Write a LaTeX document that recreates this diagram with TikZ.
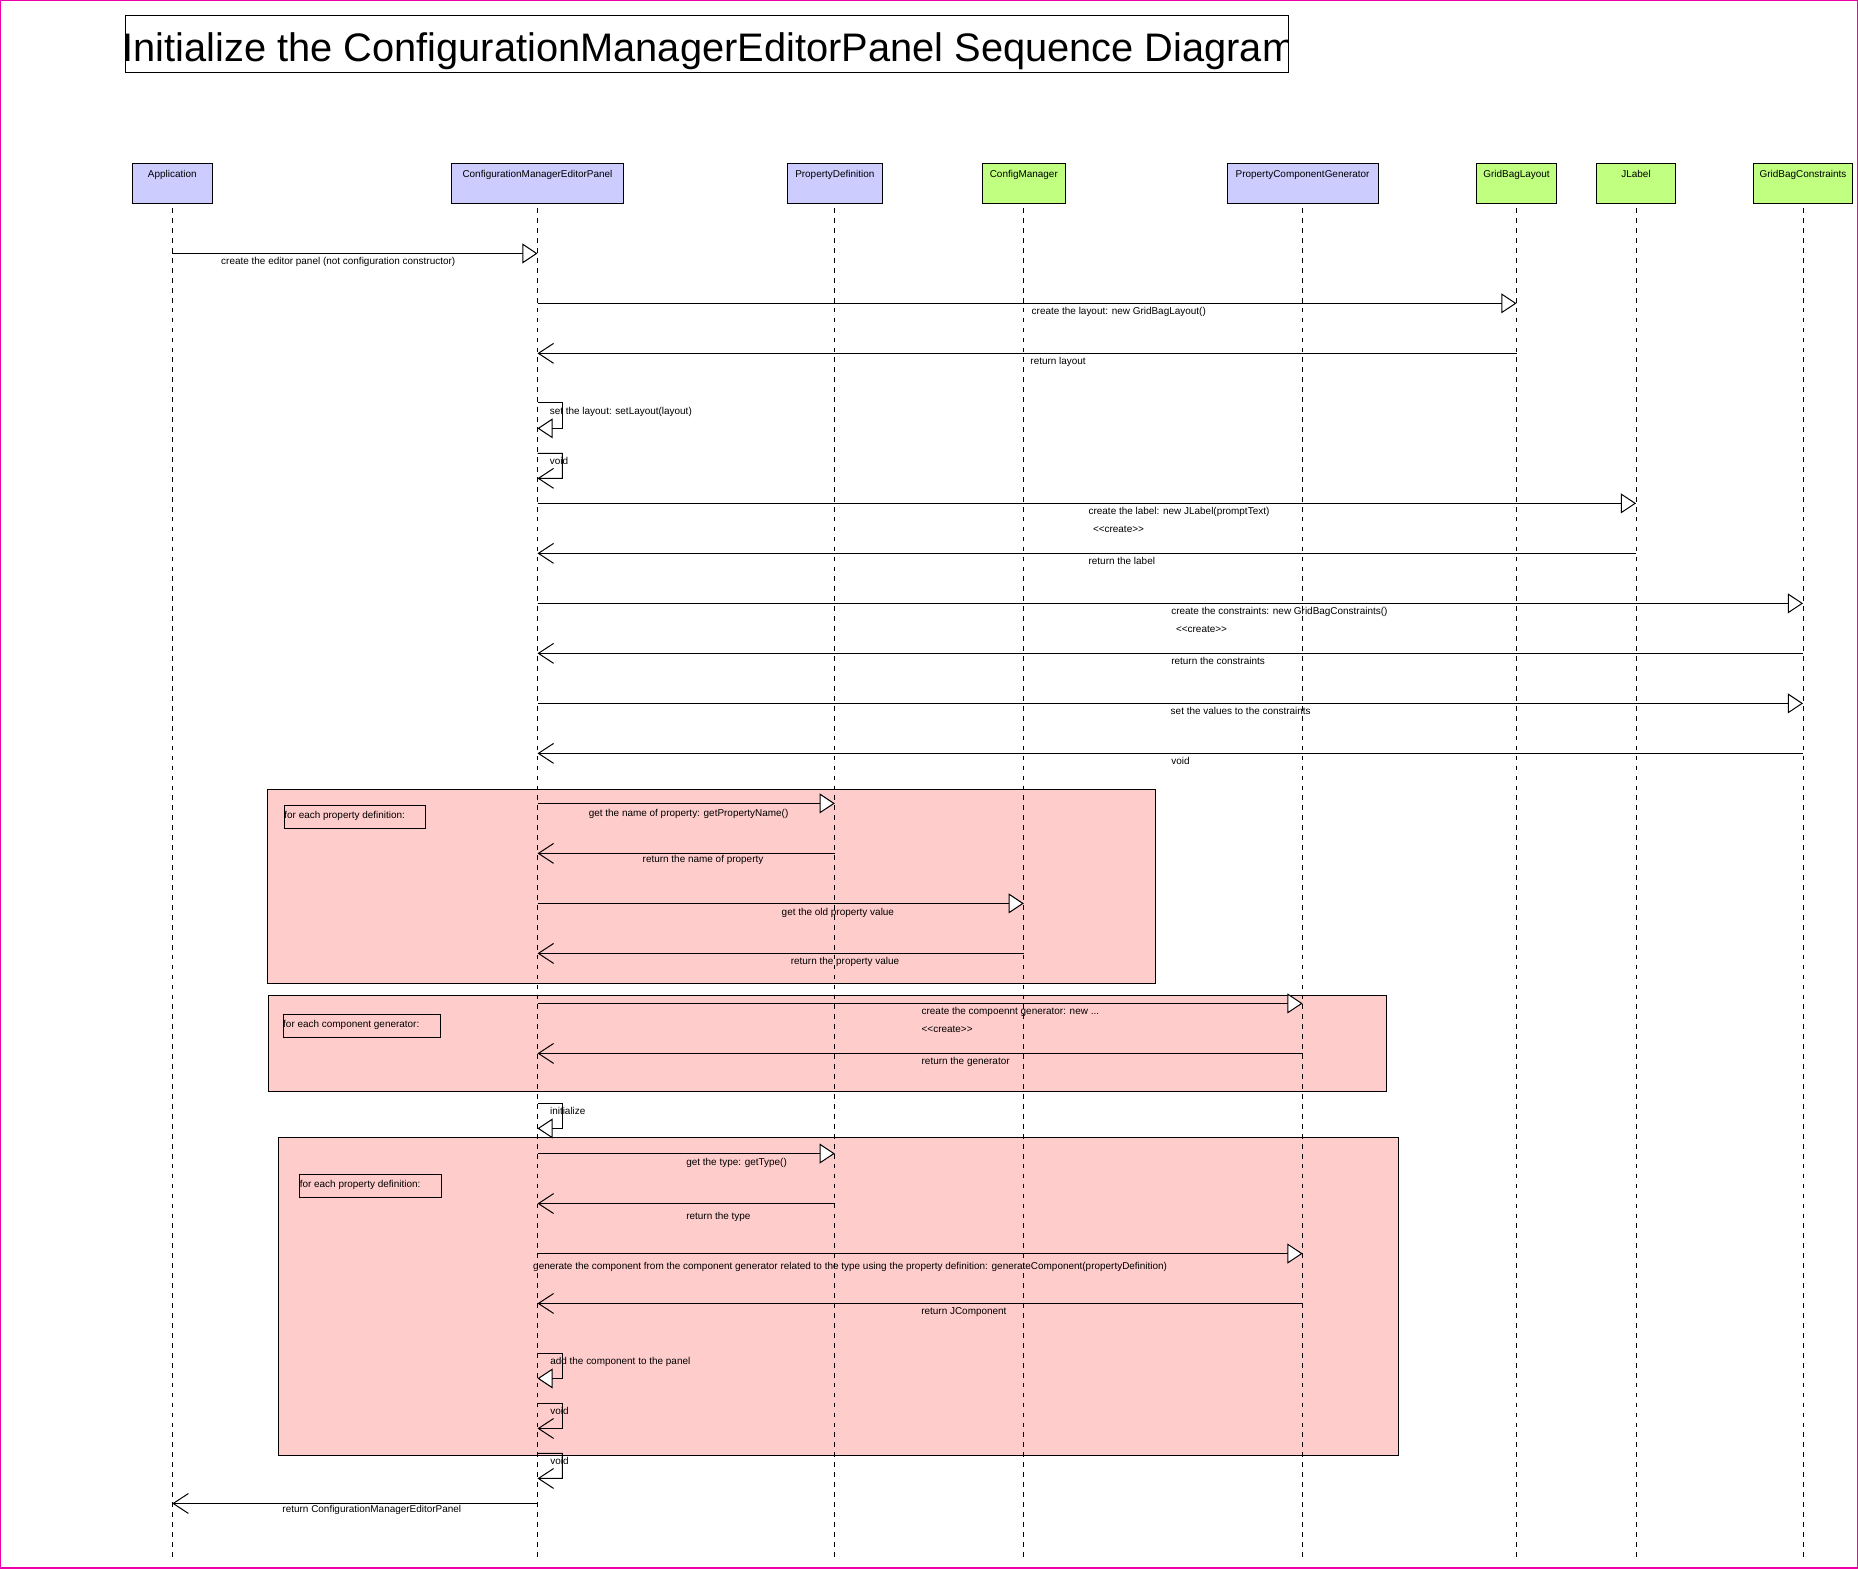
\documentclass[tikz,border=0pt]{standalone}
\usepackage{fontspec}
\setmainfont{Liberation Sans}
\usetikzlibrary{arrows.meta}
\definecolor{hdrblue}{HTML}{CCCCFF}
\definecolor{hdrgreen}{HTML}{C0FF80}
\definecolor{framepink}{HTML}{FFCCCC}
\definecolor{bordermag}{HTML}{F000A8}
\begin{document}
\begin{tikzpicture}[x=1pt,y=-1pt,
  every node/.style={font=\fontsize{8.4}{10}\selectfont, inner sep=0pt, outer sep=0pt},
  hdr/.style={draw, line width=0.85pt, minimum height=33.5pt, anchor=center},
  lbl/.style={anchor=base west},
  htxt/.style={anchor=base},
  life/.style={dash pattern=on 4pt off 4.4pt, line width=0.8pt},
  call/.style={line width=0.85pt, -{Triangle[length=12.8pt, width=16.8pt, fill=white]}},
  ret/.style={line width=0.85pt, -{Straight Barb[length=12.8pt, width=16.8pt]}},
  frm/.style={draw, fill=framepink, line width=0.85pt},
  frmlbl/.style={draw, line width=0.85pt}
]
\useasboundingbox (0,0) rectangle (1568,1324);
\fill[white] (0,0) rectangle (1568,1324);
\draw[bordermag, line width=1.2pt] (0.6,0.6) rectangle (1567.4,1323.4);

% title
\begin{scope}
\clip (106,13) rectangle (1087.5,61);
\node[anchor=base west, font=\fontsize{33.6}{40}\selectfont] (title) at (103.4,52) {Initialize the ConfigurationManagerEditorPanel Sequence Diagram};
\end{scope}
\draw[line width=0.85pt] (106,13) rectangle (1087.5,61);

% combined fragments
\draw[frm] (225.5,666.2) rectangle (975,830);
\draw[frmlbl] (240,679.7) rectangle (359.3,699);
\node[lbl] (f1t) at (240,690.7) {for each property definition:};

\draw[frm] (226.5,840) rectangle (1170.4,921);
\draw[frmlbl] (239,856) rectangle (371.8,875.5);
\node[lbl] (f2t) at (239,867.2) {for each component generator:};

\draw[frm] (235,960) rectangle (1180.6,1228.4);
\draw[frmlbl] (253,991.2) rectangle (372.5,1010.9);
\node[lbl] (f3t) at (253,1002.3) {for each property definition:};

% lifeline heads
\node[hdr, fill=hdrblue, minimum width=67.6pt] (app) at (145.4,154.75) {};
\node[htxt] (appT) at ([yshift=-12pt]app.north) {Application};
\node[hdr, fill=hdrblue, minimum width=145pt] (cmep) at (453.6,154.75) {};
\node[htxt] (cmepT) at ([yshift=-12pt]cmep.north) {ConfigurationManagerEditorPanel};
\node[hdr, fill=hdrblue, minimum width=80.6pt] (pd) at (704.5,154.75) {};
\node[htxt] (pdT) at ([yshift=-12pt]pd.north) {PropertyDefinition};
\node[hdr, fill=hdrgreen, minimum width=70pt] (cm) at (864,154.75) {};
\node[htxt] (cmT) at ([yshift=-12pt]cm.north) {ConfigManager};
\node[hdr, fill=hdrblue, minimum width=127.4pt] (pcg) at (1099.3,154.75) {};
\node[htxt] (pcgT) at ([yshift=-12pt]pcg.north) {PropertyComponentGenerator};
\node[hdr, fill=hdrgreen, minimum width=68.3pt] (gbl) at (1279.8,154.75) {};
\node[htxt] (gblT) at ([yshift=-12pt]gbl.north) {GridBagLayout};
\node[hdr, fill=hdrgreen, minimum width=67pt] (jl) at (1380.7,154.75) {};
\node[htxt] (jlT) at ([yshift=-12pt]jl.north) {JLabel};
\node[hdr, fill=hdrgreen, minimum width=84.3pt] (gbc) at (1521.6,154.75) {};
\node[htxt] (gbcT) at ([yshift=-12pt]gbc.north) {GridBagConstraints};

% lifelines
\foreach \n in {app,cmep,pd,cm,pcg,gbl,jl,gbc}{
  \draw[life] ([yshift=-4.2pt]\n.south) -- (\n |- 0,1315);
}

% messages
\draw[call] (app |- 0,213.9) -- (cmep |- 0,213.9);
\node[lbl] (t1) at (186.7,223) {create the editor panel (not configuration constructor)};

\draw[call] (cmep |- 0,256) -- (gbl |- 0,256);
\node[lbl] (t2) at (870.7,265.2) {create the layout: new GridBagLayout()};

\draw[ret] (gbl |- 0,298.2) -- (cmep |- 0,298.2);
\node[lbl] (t3) at (869.6,307.4) {return layout};

\draw[call] (cmep |- 0,340) -- ++(21,0) -- ++(0,21.5) -- (cmep |- 0,361.5);
\node[lbl] (t4) at (464,349.7) {set the layout: setLayout(layout)};

\draw[ret] (cmep |- 0,382.6) -- ++(21,0) -- ++(0,21.1) -- (cmep |- 0,403.7);
\node[lbl] (t5) at (464,391.7) {void};

\draw[call] (cmep |- 0,424.8) -- (jl |- 0,424.8);
\node[lbl] (t6) at (918.7,434) {create the label: new JLabel(promptText)};
\node[lbl] (t6b) at (922.4,449.2) {<{}<create>{}>};

\draw[ret] (jl |- 0,467) -- (cmep |- 0,467);
\node[lbl] (t7) at (918.7,476.8) {return the label};

\draw[call] (cmep |- 0,509.2) -- (gbc |- 0,509.2);
\node[lbl] (t8) at (988.5,518.4) {create the constraints: new GridBagConstraints()};
\node[lbl] (t8b) at (992.5,533.6) {<{}<create>{}>};

\draw[ret] (gbc |- 0,551.4) -- (cmep |- 0,551.4);
\node[lbl] (t9) at (988.5,560.5) {return the constraints};

\draw[call] (cmep |- 0,593.6) -- (gbc |- 0,593.6);
\node[lbl] (t10) at (988,602.7) {set the values to the constraints};

\draw[ret] (gbc |- 0,635.8) -- (cmep |- 0,635.8);
\node[lbl] (t11) at (988.5,645) {void};

\draw[call] (cmep |- 0,678) -- (pd |- 0,678);
\node[lbl] (t12) at (496.9,689.2) {get the name of property: getPropertyName()};

\draw[ret] (pd |- 0,720.2) -- (cmep |- 0,720.2);
\node[lbl] (t13) at (542.4,727.7) {return the name of property};

\draw[call] (cmep |- 0,762.4) -- (cm |- 0,762.4);
\node[lbl] (t14) at (659.7,772.4) {get the old property value};

\draw[ret] (cm |- 0,804.6) -- (cmep |- 0,804.6);
\node[lbl] (t15) at (667.4,813.7) {return the property value};

\draw[call] (cmep |- 0,846.8) -- (pcg |- 0,846.8);
\node[lbl] (t16) at (777.8,856) {create the compoennt generator: new ...};
\node[lbl] (t16b) at (777.8,871) {<{}<create>{}>};

\draw[ret] (pcg |- 0,889) -- (cmep |- 0,889);
\node[lbl] (t17) at (777.8,898.2) {return the generator};

\draw[call] (cmep |- 0,931.2) -- ++(21,0) -- ++(0,21.1) -- (cmep |- 0,952.3);
\node[lbl] (t18) at (464.2,940.4) {initialize};

\draw[call] (cmep |- 0,973.5) -- (pd |- 0,973.5);
\node[lbl] (t19) at (579.2,983.2) {get the type: getType()};

\draw[ret] (pd |- 0,1015.7) -- (cmep |- 0,1015.7);
\node[lbl] (t20) at (579.2,1029) {return the type};

\draw[call] (cmep |- 0,1057.9) -- (pcg |- 0,1057.9);
\node[lbl] (t21) at (450,1071.2) {generate the component from the component generator related to the type using the property definition: generateComponent(propertyDefinition)};

\draw[ret] (pcg |- 0,1100) -- (cmep |- 0,1100);
\node[lbl] (t22) at (777.5,1109.2) {return JComponent};

\draw[call] (cmep |- 0,1142.2) -- ++(21,0) -- ++(0,21.1) -- (cmep |- 0,1163.3);
\node[lbl] (t23) at (464.4,1151.5) {add the component to the panel};

\draw[ret] (cmep |- 0,1184.4) -- ++(21,0) -- ++(0,21.1) -- (cmep |- 0,1205.5);
\node[lbl] (t24) at (464.4,1193.6) {void};

\draw[ret] (cmep |- 0,1226.6) -- ++(21,0) -- ++(0,21.1) -- (cmep |- 0,1247.7);
\node[lbl] (t25) at (464.4,1235.7) {void};

\draw[ret] (cmep |- 0,1268.8) -- (app |- 0,1268.8);
\node[lbl] (t26) at (238.4,1276.7) {return ConfigurationManagerEditorPanel};
\end{tikzpicture}
\end{document}
